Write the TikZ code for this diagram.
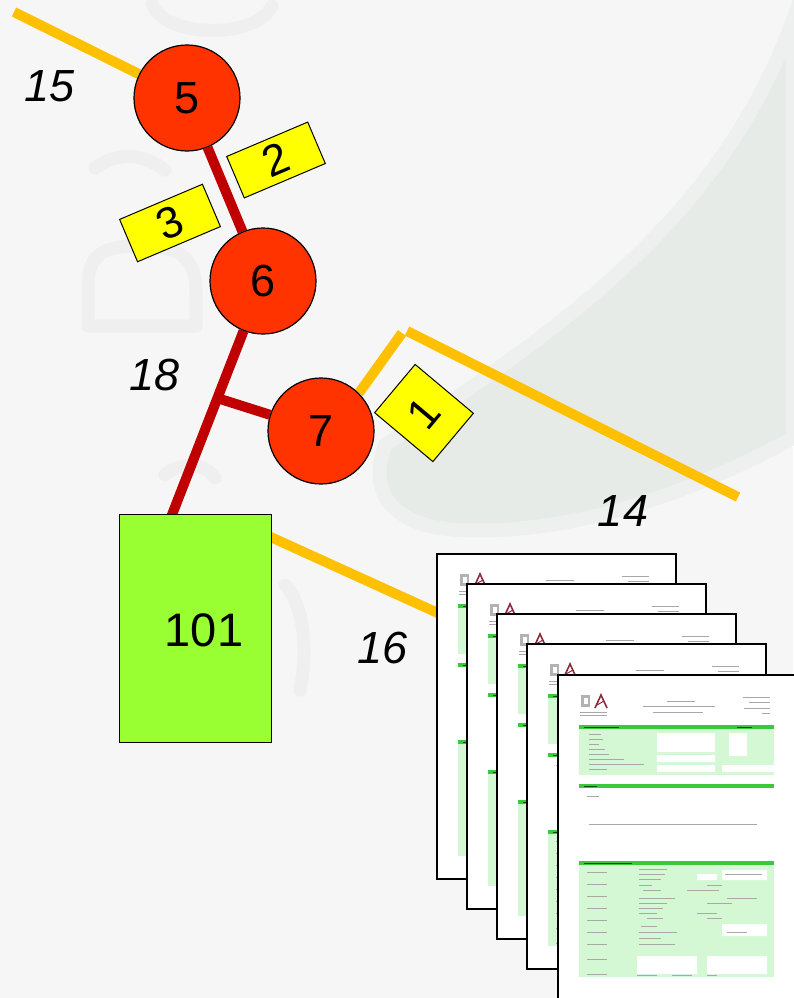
\documentclass[tikz,border=0pt]{standalone}
\usepackage{fontspec}
\setmainfont{Liberation Sans}
\usetikzlibrary{calc}

\definecolor{bgc}{HTML}{F6F6F6}
\definecolor{swoosh}{HTML}{E6EBE8}
\definecolor{swooshedge}{HTML}{EEF0EF}
\definecolor{wmark}{HTML}{EFEFEF}
\definecolor{ballred}{HTML}{FF3300}
\definecolor{stem}{HTML}{C00000}
\definecolor{wire}{HTML}{FFC000}
\definecolor{boxgreen}{HTML}{99FF33}
\definecolor{tag}{HTML}{FFFF00}
\definecolor{formgreen}{HTML}{3CC83C}
\definecolor{formlight}{HTML}{D4F7D4}
\definecolor{formtext}{HTML}{A8A8A8}
\definecolor{logored}{HTML}{8B2A3A}

\pgfdeclarelayer{back}
\pgfdeclarelayer{wires}
\pgfsetlayers{back,wires,main}

\tikzset{
  ball/.style={circle, draw=black, line width=1.2pt, fill=ballred,
    minimum size=106pt, inner sep=0pt, font=\fontsize{45}{45}\selectfont},
  tagbox/.style={rectangle, draw=black, line width=1pt, fill=tag,
    inner sep=0pt, font=\fontsize{44}{44}\selectfont},
  stemline/.style={draw=stem, line width=10pt},
  wireline/.style={draw=wire, line width=10pt},
  refnum/.style={font=\fontsize{45}{45}\selectfont\itshape},
  sheetbox/.style={rectangle, draw=black, line width=1.6pt, fill=white,
    minimum width=239pt, minimum height=325pt, inner sep=0pt, anchor=north west},
  ftext/.style={draw=formtext, line width=0.8pt},
  wmstroke/.style={draw=wmark, line width=13pt, line cap=round, line join=round},
}

% one printed form sheet, anchored at its top-left corner
\newcommand\formsheet[3]{%
  \node[sheetbox] (#1) at (#2,#3) {};
  \begin{scope}[shift={(#1.north west)}]
    % emblem and logo
    \fill[gray!60] (24,21) rectangle (33,33);
    \fill[white] (26.5,23.5) rectangle (30.5,30);
    \draw[logored, line width=1.6pt] (38,34) -- (44,21) -- (50,34);
    \draw[logored, line width=1pt] (40,31) -- (47,27);
    \draw[ftext, line width=0.5pt] (23,38) -- (50,38) (23,41) -- (50,41);
    % header lines
    \draw[ftext] (110,27) -- (138,27) (86,32) -- (158,32) (96,38) -- (146,38);
    \draw[ftext] (186,23) -- (213,23) (192,28) -- (213,28) (187,34) -- (213,34) (205,39) -- (213,39);
    % personal data block
    \fill[formgreen] (22,51) rectangle (217,55);
    \draw[green!30!black, line width=0.8pt] (27,53) -- (62,53) (180,53) -- (195,53);
    \fill[formlight] (22,55) rectangle (217,101);
    \fill[white] (100,59) rectangle (158,78) (100,81) rectangle (158,88)
                 (100,91) rectangle (158,98) (172,59) rectangle (190,82)
                 (165,91) rectangle (217,98);
    \foreach \y/\l in {60/12,65/14,70/10,75/16,80/20,85/35,90/55,95/18}
      \draw[ftext, line width=0.6pt] (32,\y) -- ++(\l,0);
    % second heading
    \fill[formgreen] (22,110) rectangle (217,114);
    \draw[green!30!black, line width=0.8pt] (27,112) -- (40,112);
    \draw[ftext, line width=0.5pt] (30,122) -- (42,122) (32,150) -- (200,150);
    % lower block
    \fill[formgreen] (22,187) rectangle (217,191);
    \draw[green!30!black, line width=0.8pt] (27,189) -- (75,189);
    \fill[formlight] (22,191) rectangle (217,303);
    \fill[white] (165,196) rectangle (210,206) (140,200) rectangle (160,206)
                 (165,250) rectangle (210,262) (80,282) rectangle (140,300)
                 (150,282) rectangle (210,300);
    \foreach \y in {198,210,222,234,246,258,270,285,300}
      \draw[ftext, line width=0.6pt] (30,\y) -- ++(20,0);
    \foreach \y/\a/\b in {195/82/110,200/82/108,205/82/104,211/82/95,216/86/104,
        224/82/118,229/82/110,234/82/106,239/82/100,244/90/106,252/84/100,
        258/82/120,264/82/104,270/82/118}
      \draw[ftext, line width=0.6pt] (\a,\y) -- (\b,\y);
    \foreach \y/\a/\b in {200/168/205,211/150/165,216/130/162,224/170/200,
        229/150/175,239/140/160,244/150/165,258/170/190}
      \draw[ftext, line width=0.6pt] (\a,\y) -- (\b,\y);
    \draw[ftext, line width=0.6pt] (80,301) -- (100,301) (115,301) -- (135,301) (150,301) -- (160,301);
  \end{scope}}

\begin{document}
\begin{tikzpicture}[x=1pt, y=-1pt]
  \useasboundingbox (0,0) rectangle (793,998);

  \begin{pgfonlayer}{back}
    \fill[bgc] (0,0) rectangle (793,998);
    % faint watermark sweep with a soft rim
    \path[fill=swoosh, draw=swooshedge, line width=14pt]
      (385,445) .. controls (560,330) and (720,220) .. (793,20)
      -- (793,438) .. controls (680,500) and (560,535) .. (460,530)
      .. controls (390,527) and (368,490) .. (385,445) -- cycle;
    % faint watermark strokes
    \draw[wmstroke] (152,4) .. controls (165,38) and (255,40) .. (272,6);
    \draw[wmstroke] (88,326) -- (88,285) .. controls (88,250) and (110,246) .. (140,246)
      .. controls (175,246) and (196,255) .. (196,290) -- (196,326) -- cycle;
    \draw[wmstroke] (95,168) .. controls (120,150) and (145,155) .. (165,170);
    \draw[wmstroke] (165,475) .. controls (180,462) and (205,462) .. (215,478);
    \draw[wmstroke] (285,585) .. controls (300,600) and (310,640) .. (300,690);
  \end{pgfonlayer}

  % joints
  \node[ball] (n5) at (187,98) {5};
  \node[ball] (n6) at (263,281) {6};
  \node[ball] (n7) at (321,431) {7};

  % base block
  \node[rectangle, draw=black, line width=1.2pt, fill=boxgreen, inner sep=0pt,
        minimum width=152pt, minimum height=228pt, anchor=north west] (r101) at (119,514) {};
  \node[font=\fontsize{47}{47}\selectfont] (t101) at (204,630) {101};

  % tags
  \node[tagbox, minimum width=88pt, minimum height=45pt, rotate=23] (tag2) at (276,160) {2};
  \node[tagbox, minimum width=90pt, minimum height=46pt, rotate=23] (tag3) at (170,223) {3};
  \node[tagbox, minimum width=63pt, minimum height=76pt, rotate=50] (tag1) at (424,413) {1};

  % reference numerals
  \node[refnum] (l15) at (50,86) {15};
  \node[refnum] (l18) at (155,375) {18};
  \node[refnum] (l14) at (623,511) {14};
  \node[refnum] (l16) at (383,648) {16};

  % stack of forms
  \formsheet{p1}{436}{553}
  \formsheet{p2}{466}{583}
  \formsheet{p3}{496}{613}
  \formsheet{p4}{526}{643}
  \formsheet{p5}{557}{674}

  % connectors
  \coordinate (w15) at (14,12);
  \coordinate (k1) at (402,333);
  \coordinate (k2) at (407,331);
  \coordinate (w14) at (738,497);
  \coordinate (s101) at ($(r101.north west)+(49,11)$);
  \coordinate (br) at ($(n6.center)!0.48!(s101)$);
  \begin{pgfonlayer}{wires}
    \draw[wireline] (w15) -- (n5);
    \draw[wireline] (n7.45) -- (k1);
    \draw[wireline] (k2) -- (w14);
    \draw[wireline] ($(r101.north east)+(-6,21)$) -- ($(p1.north west)+(4,61)$);
    \draw[stemline] (br) -- (n7);
    \draw[stemline] (n5) -- (n6);
    \draw[stemline] (n6) -- (s101);
  \end{pgfonlayer}
\end{tikzpicture}
\end{document}
